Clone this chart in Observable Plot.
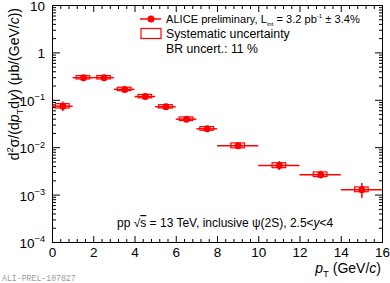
<!DOCTYPE html>
<html><head><meta charset="utf-8">
<script src="https://cdn.jsdelivr.net/npm/d3@7"></script>
<script src="https://cdn.jsdelivr.net/npm/@observablehq/plot@0.6"></script>
<style>
body{margin:0;background:#fff}
#chart svg{display:block;font-family:"Liberation Sans",Arial,Helvetica,sans-serif}
</style>
</head><body><div id="chart"></div>
<script>
// ---- data ----
const binLow    = [0, 1, 2, 3, 4, 5, 6, 7, 8, 10, 12, 14];
const binHigh   = [1, 2, 3, 4, 5, 6, 7, 8, 10, 12, 14, 16];
const ptCenter  = [0.5, 1.5, 2.5, 3.5, 4.5, 5.5, 6.5, 7.5, 9, 11, 13, 15];
const xsec      = [0.075, 0.30, 0.30, 0.17, 0.12, 0.073, 0.040, 0.025, 0.011, 0.0042, 0.0027, 0.0013];
const statErr   = [0.017, 0.015, 0.015, 0.010, 0.008, 0.005, 0.003, 0.002, 0.001, 0.0009, 0.0005, 0.00045];
const sysErr    = [0.008, 0.025, 0.025, 0.014, 0.010, 0.006, 0.0035, 0.0022, 0.0013, 0.0005, 0.0003, 0.00015];
const sysHalfWidth = 0.33;

const xMajorTicks = [0, 2, 4, 6, 8, 10, 12, 14, 16];
const xTickLabels = ["0", "2", "4", "6", "8", "10", "12", "14", "16"];
const yMajorTicks = [1e-4, 1e-3, 1e-2, 1e-1, 1, 10];
const yTickBase   = ["10", "10", "10", "10", "1", "10"];
const yTickExp    = ["\u22124", "\u22123", "\u22122", "\u22121", "", ""];

const xMinorTicks = [];
for (let v = 0; v <= 16.0001; v += 0.4) {
  const r = Math.round(v * 10) / 10;
  if (!xMajorTicks.includes(r)) xMinorTicks.push(r);
}
const yMinorTicks = [];
for (let e = -4; e < 1; e++) for (let m = 2; m <= 9; m++) yMinorTicks.push(m * Math.pow(10, e));

const data = ptCenter.map((x, i) => ({
  x, lo: binLow[i], hi: binHigh[i], y: xsec[i],
  ys1: xsec[i] - statErr[i], ys2: xsec[i] + statErr[i],
  yy1: xsec[i] - sysErr[i], yy2: xsec[i] + sysErr[i],
  bx1: x - sysHalfWidth, bx2: x + sysHalfWidth
}));

const RED = "#ff0000";
const plot = Plot.plot({
  width: 390, height: 283,
  marginLeft: 52, marginRight: 8, marginTop: 5, marginBottom: 41,
  style: {fontFamily: '"Liberation Sans", Arial, sans-serif', fontSize: "13.5px", background: "white", color: "black"},
  x: {domain: [0, 16]},
  y: {type: "log", domain: [1e-4, 10]},
  marks: [
    Plot.axisX(xMajorTicks, {anchor: "bottom", tickSize: -6, fill: "none", label: null}),
    Plot.axisX(xMinorTicks, {anchor: "bottom", tickSize: -3, fill: "none", label: null}),
    Plot.axisX(xMajorTicks, {anchor: "top", tickSize: -6, fill: "none", label: null}),
    Plot.axisX(xMinorTicks, {anchor: "top", tickSize: -3, fill: "none", label: null}),
    Plot.axisY(yMajorTicks, {anchor: "left", tickSize: -8, fill: "none", label: null}),
    Plot.axisY(yMinorTicks, {anchor: "left", tickSize: -4, fill: "none", label: null}),
    Plot.axisY(yMajorTicks, {anchor: "right", tickSize: -8, fill: "none", label: null}),
    Plot.axisY(yMinorTicks, {anchor: "right", tickSize: -4, fill: "none", label: null}),
    Plot.axisX(xMajorTicks, {anchor: "bottom", tickSize: 0, tickPadding: 5, label: null,
      tickFormat: d => xTickLabels[xMajorTicks.indexOf(d)]}),
    Plot.frame({stroke: "black", strokeWidth: 1}),
    Plot.ruleY(data, {y: "y", x1: "lo", x2: "hi", stroke: RED, strokeWidth: 1.5}),
    Plot.ruleX(data, {x: "x", y1: "ys1", y2: "ys2", stroke: RED, strokeWidth: 1.5}),
    Plot.rect(data, {x1: "bx1", x2: "bx2", y1: "yy1", y2: "yy2", stroke: RED, strokeWidth: 1.2, fill: "none"}),
    Plot.dot(data, {x: "x", y: "y", r: 3.5, fill: RED, stroke: "none"})
  ]
});
document.getElementById("chart").appendChild(plot);

const svg = d3.select(plot);
const ys = plot.scale("y");

function rich(sel, parts, size, k = 0.68) {
  let shift = 0;
  parts.forEach(p => {
    const ts = sel.append("tspan").text(p.t);
    const target = p.s === "sup" ? -0.42 * size : p.s === "sub" ? 0.3 * size : 0;
    if (target - shift !== 0) ts.attr("dy", target - shift);
    shift = target;
    if (p.s) ts.attr("font-size", size * k);
    if (p.i) ts.attr("font-style", "italic");
    if (p.o) ts.attr("text-decoration", "overline");
  });
}

// y tick labels
const yl = svg.append("g").attr("font-size", 13.5).attr("text-anchor", "end");
yMajorTicks.forEach((v, i) => {
  const t = yl.append("text").attr("x", 45).attr("y", ys.apply(v) + 6);
  const parts = [{t: yTickBase[i]}];
  if (yTickExp[i]) parts.push({t: yTickExp[i], s: "sup"});
  rich(t, parts, 13.5);
});

// axis titles
const xt = svg.append("text").attr("x", 381).attr("y", 273).attr("text-anchor", "end").attr("font-size", 14);
rich(xt, [{t: "p", i: true}, {t: "T", s: "sub"}, {t: " (GeV/"}, {t: "c", i: true}, {t: ")"}], 14);

const yt = svg.append("text").attr("transform", "translate(19,8) rotate(-90)").attr("text-anchor", "end").attr("font-size", 14);
rich(yt, [{t: "d"}, {t: "2", s: "sup"}, {t: "\u03c3/(d"}, {t: "p", i: true}, {t: "T", s: "sub"}, {t: "d"}, {t: "y", i: true},
          {t: ") (\u03bcb/(GeV/"}, {t: "c", i: true}, {t: "))"}], 14);

// legend
const lg = svg.append("g").attr("text-anchor", "start");
lg.append("line").attr("x1", 140).attr("x2", 161).attr("y1", 19).attr("y2", 19).attr("stroke", RED).attr("stroke-width", 1.5);
lg.append("circle").attr("cx", 151).attr("cy", 19).attr("r", 3.5).attr("fill", RED);
lg.append("rect").attr("x", 141).attr("y", 28.5).attr("width", 20).attr("height", 10).attr("fill", "none").attr("stroke", RED).attr("stroke-width", 1.2);
const l1 = lg.append("text").attr("x", 166).attr("y", 22.5).attr("font-size", 11.1);
rich(l1, [{t: "ALICE preliminary, L"}, {t: "int", s: "sub"}, {t: " = 3.2 pb"}, {t: "-1", s: "sup"}, {t: " \u00b1 3.4%"}], 11.1, 0.55);
lg.append("text").attr("x", 166).attr("y", 37.5).attr("font-size", 12.3).text("Systematic uncertainty");
lg.append("text").attr("x", 166).attr("y", 52.5).attr("font-size", 12.3).text("BR uncert.: 11 %");

// annotation
const an = svg.append("text").attr("x", 117).attr("y", 227).attr("font-size", 12).attr("text-anchor", "start");
rich(an, [{t: "pp \u221a"}, {t: "s", o: true}, {t: " = 13 TeV, inclusive \u03c8(2S), 2.5<"}, {t: "y", i: true}, {t: "<4"}], 12);

svg.append("text").attr("x", 2).attr("y", 281).attr("font-size", 8.2).attr("fill", "#999").attr("text-anchor", "start")
  .attr("font-family", '"Liberation Mono", "DejaVu Sans Mono", monospace').text("ALI-PREL-107827");
</script>
</body></html>
